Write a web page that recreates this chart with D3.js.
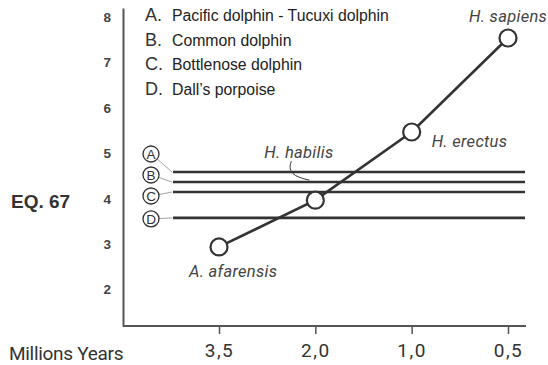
<!DOCTYPE html>
<html><head><meta charset="utf-8">
<script src="https://cdn.jsdelivr.net/npm/d3@7"></script>
<style>body{margin:0;background:#fff}svg{display:block}</style>
</head><body>
<script>
// Data
const periods = ["3,5", "2,0", "1,0", "0,5"];
const hominids = ["A. afarensis", "H. habilis", "H. erectus", "H. sapiens"];
const hominidEQ = [2.94, 3.97, 5.47, 7.54];
const dolphinKeys = ["A", "B", "C", "D"];
const dolphinNames = ["Pacific dolphin - Tucuxi dolphin", "Common dolphin", "Bottlenose dolphin", "Dall\u2019s porpoise"];
const dolphinEQ = [4.59, 4.37, 4.15, 3.58];
const yTicks = [2, 3, 4, 5, 6, 7, 8];

const W = 548, H = 365;
const svg = d3.select("body").append("svg").attr("width", W).attr("height", H);
const ink = "#333";

const y = d3.scaleLinear().domain([1.2, 8.2]).range([326, 8]);
const x = d3.scalePoint().domain(periods).range([219, 508]);
const axisX = 123, axisRight = 526;

// Y axis
const yAxis = svg.append("g").attr("transform", `translate(${axisX},0)`)
  .call(d3.axisLeft(y).tickValues(yTicks).tickSize(0).tickPadding(12).tickFormat(d3.format("d")));
yAxis.select(".domain").attr("stroke", "#555").attr("stroke-width", 2);
yAxis.selectAll("text").attr("font-family", "Liberation Sans, Arial, sans-serif")
  .attr("font-size", 13.5).attr("font-weight", "bold").attr("fill", "#444");

// X axis
const xAxis = svg.append("g").attr("transform", `translate(0,${y.range()[0]})`)
  .call(d3.axisBottom(x).tickSize(8).tickPadding(9));
xAxis.select(".domain").attr("d", `M${axisX},0H${axisRight}`).attr("stroke", "#555").attr("stroke-width", 2);
xAxis.selectAll(".tick line").attr("stroke", "#555").attr("stroke-width", 1.5);
xAxis.selectAll("text").attr("font-family", "Roboto, sans-serif").attr("font-size", 19)
  .attr("fill", "#333").attr("letter-spacing", "1.5px").attr("dy", "0.75em");

// Axis titles
svg.append("text").attr("x", 11).attr("y", 208).text("EQ. 67")
  .attr("font-family", "Liberation Sans, Arial, sans-serif").attr("font-weight", "bold")
  .attr("font-size", 19).attr("fill", "#333");
svg.append("text").attr("x", 9).attr("y", 360).text("Millions Years")
  .attr("font-family", "Roboto, sans-serif").attr("font-size", 19).attr("fill", "#333")
  .attr("letter-spacing", "-0.3px");

// Legend
const leg = svg.append("g").attr("font-family", "Liberation Sans, Arial, sans-serif").attr("fill", "#222");
dolphinKeys.forEach((k, i) => {
  const by = 21 + i * 24.5;
  leg.append("text").attr("x", 145).attr("y", by).attr("font-size", 18).attr("fill", "#333").text(k + ".");
  leg.append("text").attr("x", 172).attr("y", by).attr("font-size", 15.8).text(dolphinNames[i]);
});

// Dolphin horizontal lines
const lineStart = 173;
svg.append("g").selectAll("line").data(dolphinEQ).join("line")
  .attr("x1", lineStart).attr("x2", 525)
  .attr("y1", d => y(d)).attr("y2", d => y(d))
  .attr("stroke", ink).attr("stroke-width", 2.6);

// Callout circles with letters
const calloutOffsets = [-18, -7, 4, 1];
const cx = 151, cr = 8;
const callouts = svg.append("g");
dolphinEQ.forEach((d, i) => {
  const cy = y(d) + calloutOffsets[i];
  const ly = y(d);
  const ang = Math.atan2(ly - cy, lineStart - cx);
  callouts.append("line")
    .attr("x1", cx + cr * Math.cos(ang)).attr("y1", cy + cr * Math.sin(ang))
    .attr("x2", lineStart - 1).attr("y2", ly)
    .attr("stroke", "#999").attr("stroke-width", 0.9);
  callouts.append("circle").attr("cx", cx).attr("cy", cy).attr("r", cr)
    .attr("fill", "#fff").attr("stroke", ink).attr("stroke-width", 1.3);
  callouts.append("text").attr("x", cx).attr("y", cy + 4.8).attr("text-anchor", "middle")
    .attr("font-family", "Liberation Sans, Arial, sans-serif").attr("font-size", 13.5)
    .attr("fill", ink).text(dolphinKeys[i]);
});

// Hominid line
const pts = periods.map((p, i) => [x(p), y(hominidEQ[i])]);
svg.append("path").attr("d", d3.line()(pts)).attr("fill", "none")
  .attr("stroke", ink).attr("stroke-width", 2.6);
svg.append("g").selectAll("circle").data(pts).join("circle")
  .attr("cx", d => d[0]).attr("cy", d => d[1]).attr("r", 8.5)
  .attr("fill", "#fff").attr("stroke", ink).attr("stroke-width", 2.2);

// Hominid labels
const labelOff = [[-30, 30], [-51, -42], [20, 15], [-39, -16]];
const labs = svg.append("g").attr("font-family", "Roboto, sans-serif").attr("font-style", "italic")
  .attr("font-size", 16.5).attr("fill", "#444").attr("letter-spacing", "0.3px");
pts.forEach((p, i) => {
  labs.append("text").attr("x", p[0] + labelOff[i][0]).attr("y", p[1] + labelOff[i][1])
    .text(hominids[i]);
});

// H. habilis leader curve
const hp = pts[1];
svg.append("path")
  .attr("d", `M${hp[0] - 24},${hp[1] - 39} C${hp[0] - 29},${hp[1] - 26} ${hp[0] - 18},${hp[1] - 23} ${hp[0] - 6},${hp[1] - 20}`)
  .attr("fill", "none").attr("stroke", ink).attr("stroke-width", 1);
</script>
</body></html>
